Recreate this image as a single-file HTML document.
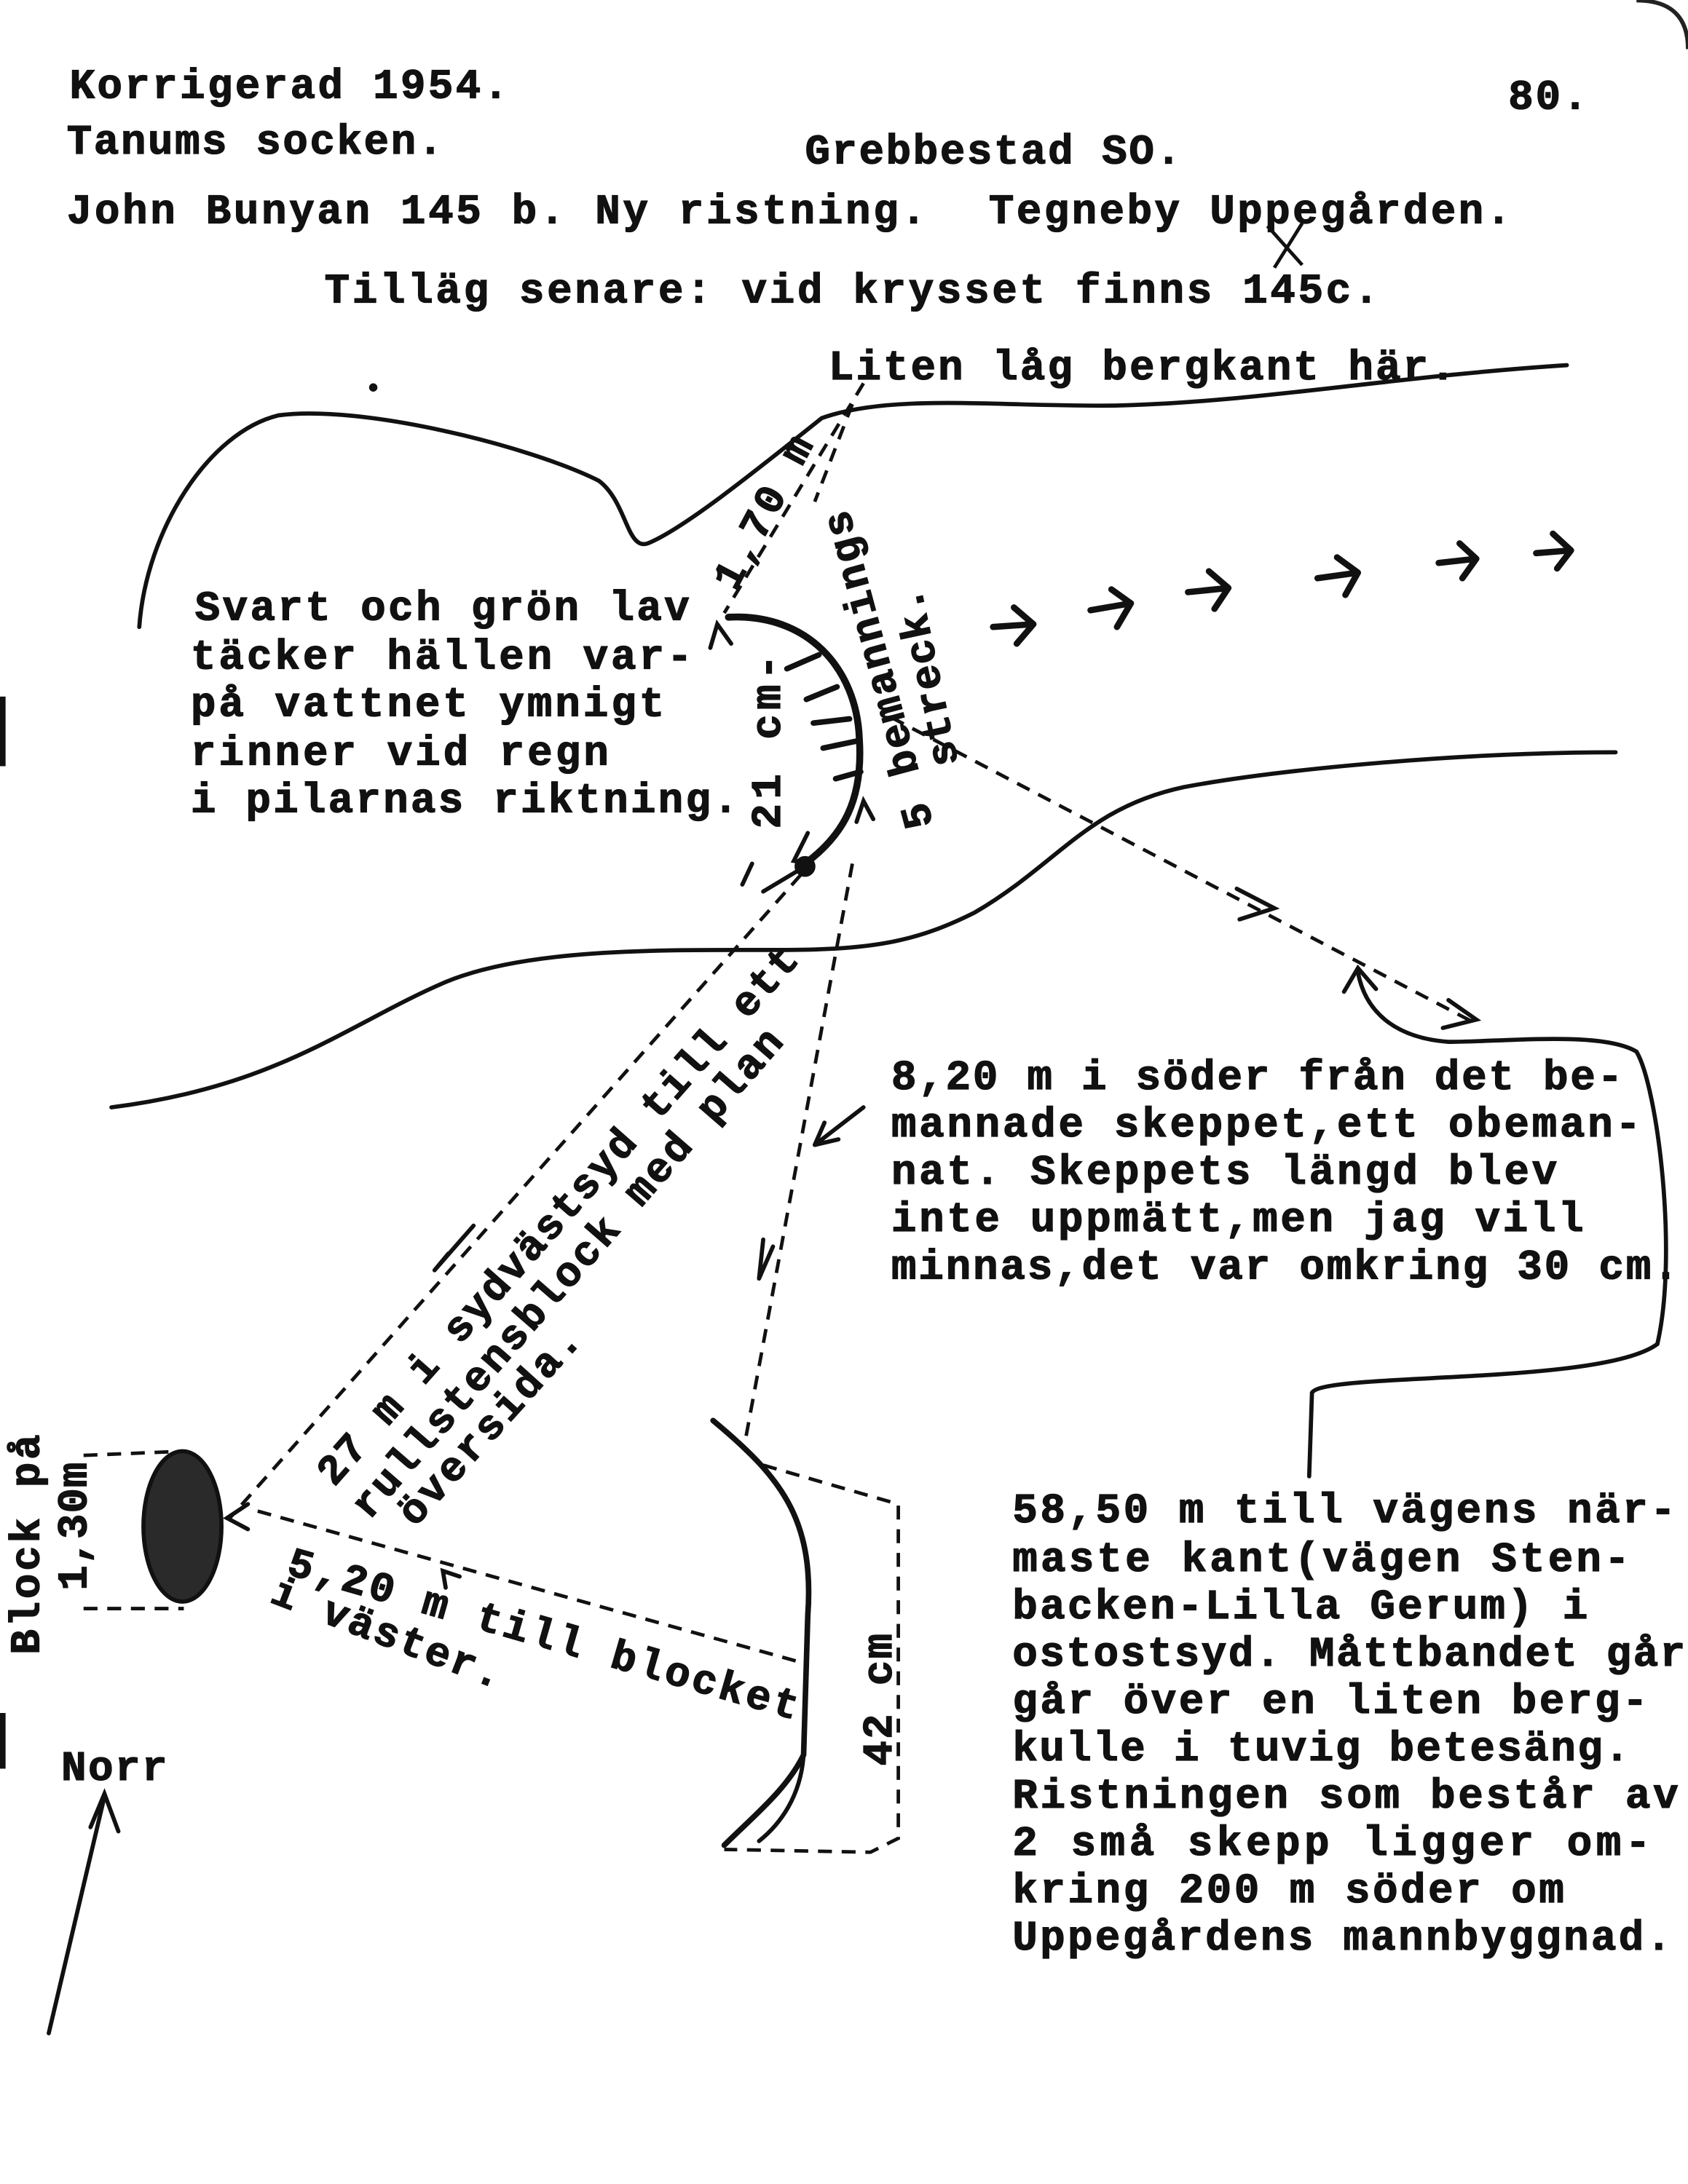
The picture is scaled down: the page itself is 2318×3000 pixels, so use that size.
<!DOCTYPE html>
<html><head><meta charset="utf-8">
<style>
html,body{margin:0;padding:0;background:#fff;}
svg{display:block;}
text{font-family:"Liberation Mono",monospace;font-weight:bold;font-size:30px;fill:#111;stroke:#111;stroke-width:0.7px;}
</style></head>
<body>
<svg width="2318" height="3000" viewBox="0 0 1212 1568" xmlns="http://www.w3.org/2000/svg">
<rect width="1212" height="1568" fill="#fff"/>
<path d="M1175,0 Q1212,0 1212,35" fill="none" stroke="#222" stroke-width="3"/>
<rect x="0" y="500" width="4" height="50" fill="#111"/>
<rect x="0" y="1230" width="4" height="40" fill="#111"/>

<!-- header text -->
<text x="50" y="70" textLength="315" lengthAdjust="spacing">Korrigerad 1954.</text>
<text x="1083" y="78" textLength="57" lengthAdjust="spacing">80.</text>
<text x="48" y="110" textLength="270" lengthAdjust="spacing">Tanums socken.</text>
<text x="578" y="117" textLength="270" lengthAdjust="spacing">Grebbestad SO.</text>
<text x="48" y="160" textLength="617" lengthAdjust="spacing">John Bunyan 145 b. Ny ristning.</text>
<text x="710" y="160" textLength="375" lengthAdjust="spacing">Tegneby Uppegården.</text>
<text x="233" y="217" textLength="757" lengthAdjust="spacing">Tilläg senare: vid krysset finns 145c.</text>
<text x="595" y="272" textLength="450" lengthAdjust="spacing">Liten låg bergkant här.</text>
<path d="M910,162 L935,190 M935,160 L915,192" stroke="#111" stroke-width="2.5" fill="none"/>

<!-- left paragraph -->
<text x="140" y="445" textLength="355" lengthAdjust="spacing">Svart och grön lav</text>
<text x="137" y="480" textLength="360" lengthAdjust="spacing">täcker hällen var-</text>
<text x="137" y="514" textLength="340" lengthAdjust="spacing">på vattnet ymnigt</text>
<text x="137" y="549" textLength="300" lengthAdjust="spacing">rinner vid regn</text>
<text x="137" y="583" textLength="393" lengthAdjust="spacing">i pilarnas riktning.</text>

<!-- right paragraph -->
<text x="640" y="782" textLength="525" lengthAdjust="spacing">8,20 m i söder från det be-</text>
<text x="640" y="816" textLength="538" lengthAdjust="spacing">mannade skeppet,ett obeman-</text>
<text x="640" y="850" textLength="478" lengthAdjust="spacing">nat. Skeppets längd blev</text>
<text x="640" y="884" textLength="497" lengthAdjust="spacing">inte uppmätt,men jag vill</text>
<text x="640" y="918" textLength="565" lengthAdjust="spacing">minnas,det var omkring 30 cm.</text>

<!-- bottom right paragraph -->
<text x="727" y="1093" textLength="476" lengthAdjust="spacing">58,50 m till vägens när-</text>
<text x="727" y="1128" textLength="443" lengthAdjust="spacing">maste kant(vägen Sten-</text>
<text x="727" y="1162" textLength="413" lengthAdjust="spacing">backen-Lilla Gerum) i</text>
<text x="727" y="1196" textLength="483" lengthAdjust="spacing">ostostsyd. Måttbandet går</text>
<text x="727" y="1230" textLength="456" lengthAdjust="spacing">går över en liten berg-</text>
<text x="727" y="1264" textLength="443" lengthAdjust="spacing">kulle i tuvig betesäng.</text>
<text x="727" y="1298" textLength="478" lengthAdjust="spacing">Ristningen som består av</text>
<text x="727" y="1332" textLength="458" lengthAdjust="spacing">2 små skepp ligger om-</text>
<text x="727" y="1366" textLength="396" lengthAdjust="spacing">kring 200 m söder om</text>
<text x="727" y="1400" textLength="473" lengthAdjust="spacing">Uppegårdens mannbyggnad.</text>

<text x="44" y="1278" textLength="76" lengthAdjust="spacing">Norr</text>

<!-- rotated labels -->
<text transform="translate(528,425) rotate(-62)" textLength="120" lengthAdjust="spacing">1,70 m</text>
<text transform="translate(670,592) rotate(-105)" textLength="235" lengthAdjust="spacing">5 bemannings</text>
<text transform="translate(688,548) rotate(-102)" textLength="130" lengthAdjust="spacing">streck.</text>
<text transform="translate(560,595) rotate(-90)" textLength="125" lengthAdjust="spacing">21 cm-</text>
<text transform="translate(240,1068) rotate(-48.5)" textLength="505" lengthAdjust="spacing">27 m i sydvästsyd till ett</text>
<text transform="translate(265,1092) rotate(-49)" textLength="455" lengthAdjust="spacing">rullstensblock med plan</text>
<text transform="translate(298,1097) rotate(-48)" textLength="180" lengthAdjust="spacing">översida.</text>
<text transform="translate(205,1130) rotate(16)" textLength="380" lengthAdjust="spacing">5,20 m till blocket</text>
<text transform="translate(193,1150) rotate(21)" textLength="175" lengthAdjust="spacing">i väster.</text>
<text transform="translate(28,1188) rotate(-90)" textLength="158" lengthAdjust="spacing">Block på</text>
<text transform="translate(62,1142) rotate(-90)" textLength="92" lengthAdjust="spacing">1,30m</text>
<text transform="translate(640,1268) rotate(-90)" textLength="95" lengthAdjust="spacing">42 cm</text>

<g fill="none" stroke="#111" stroke-width="3" stroke-linecap="round">
<!-- top contour -->
<path d="M100,450 C105,380 150,310 200,298 C260,290 380,320 430,345 C450,360 450,395 465,390 C490,380 540,340 590,300 C640,282 720,292 800,291 C900,289 1000,270 1125,262"/>
<!-- middle contour -->
<path d="M1160,540 C1050,540 920,552 850,565 C780,580 760,620 700,655 C660,675 630,682 560,682 C480,682 380,680 320,705 C250,735 200,780 80,795"/>
<!-- right boundary -->
<path d="M940,1060 L942,1000 C950,985 1150,995 1190,965 C1205,900 1190,780 1175,755 C1150,740 1080,748 1040,748 C1000,745 980,725 975,698"/>
<path d="M965,712 L975,695 L988,710"/>
<!-- ship 1 -->
<path d="M523,443 C580,440 615,480 617,530 C620,575 605,600 578,620" stroke-width="5"/>
<path d="M578,622 L548,640" stroke-width="3"/>
<circle cx="578" cy="622" r="6" fill="#111"/>
<path d="M565,480 L588,470 M579,502 L601,493 M584,519 L610,516 M591,537 L615,532 M600,559 L618,554" stroke-width="4"/>
<!-- ship 2 -->
<path d="M512,1020 C560,1060 585,1090 580,1160 L577,1260 C565,1285 540,1305 520,1325" stroke-width="4"/>
<path d="M577,1260 C575,1290 560,1310 545,1322"/>
<!-- block -->
<ellipse cx="131" cy="1096" rx="28" ry="54" fill="#2a2a2a" stroke-width="3"/>
</g>
<!-- arrows row (with shafts) -->
<g fill="none" stroke="#111" stroke-width="4.5" stroke-linecap="round" stroke-linejoin="round">
<path d="M713,450 L742,448 M728,436 L742,448 L730,462"/>
<path d="M783,438 L812,433 M798,423 L812,433 L802,450"/>
<path d="M853,425 L882,422 M868,410 L882,422 L872,437"/>
<path d="M946,415 L975,411 M960,400 L975,411 L966,427"/>
<path d="M1033,404 L1060,401 M1048,390 L1060,401 L1050,415"/>
<path d="M1103,397 L1128,395 M1115,383 L1128,395 L1118,408"/>
</g>
<g fill="none" stroke="#111" stroke-width="3" stroke-linecap="round">
<path d="M888,638 L915,652 L890,660"/>
<path d="M1040,718 L1060,732 L1036,738"/>
<!-- misc arrowheads -->
<path d="M312,912 L340,880 M312,912 L322,900"/>
<path d="M545,918 L548,890 M545,918 L555,895"/>
<path d="M585,822 L620,795 M585,822 L602,818 M585,822 L592,806"/>
<path d="M580,598 L570,618 L583,620"/>
<path d="M510,465 L515,448 L525,462"/>
<path d="M615,590 L620,575 L627,588"/>
<path d="M533,635 L540,620"/>
<path d="M178,1080 L163,1090 L178,1098"/>
<path d="M320,1140 L318,1128 L330,1132"/>
<!-- Norr arrow -->
<path d="M35,1460 L75,1290"/>
<path d="M65,1312 L75,1288 L85,1315"/>
</g>

<g fill="none" stroke="#111" stroke-width="2.5" stroke-dasharray="10,7">
<path d="M620,275 L520,440"/>
<path d="M612,290 L585,360"/>
<path d="M640,515 L1060,735"/>
<path d="M575,628 L165,1090"/>
<path d="M612,620 L535,1035"/>
<path d="M185,1085 L580,1195"/>
<path d="M548,1052 L645,1080 L645,1320 L625,1330 L520,1328"/>
<path d="M60,1045 L132,1042"/>
<path d="M60,1155 L132,1155"/>
</g>
<circle cx="268" cy="278" r="3" fill="#111"/>
</svg>
</body></html>
